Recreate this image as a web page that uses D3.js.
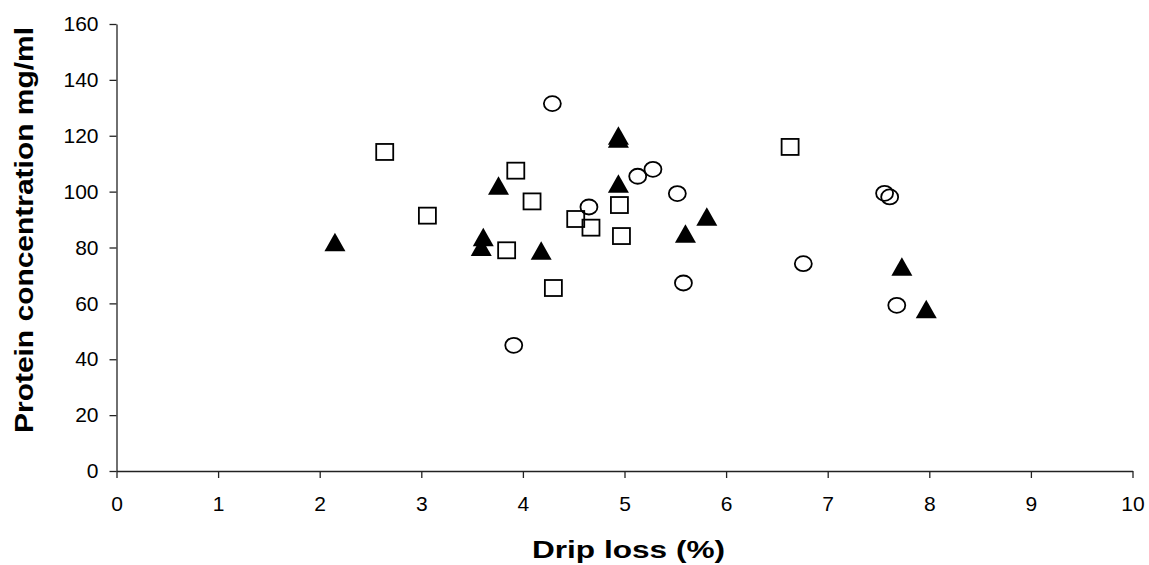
<!DOCTYPE html>
<html>
<head>
<meta charset="utf-8">
<script src="https://cdn.jsdelivr.net/npm/d3@7"></script>
<style>
  body { margin: 0; background: #fff; }
  svg { display: block; font-family: "Liberation Sans", Arial, sans-serif; }
  .tick text { font-size: 21px; fill: #000; }
  .tick line, .domain { stroke: #222; stroke-width: 1.3px; }
</style>
</head>
<body>
<script>
// series (x = drip loss %, y = protein mg/ml)
var squareX = [2.64, 3.06, 3.93, 4.09, 4.52, 4.67, 4.95, 4.97, 3.84, 4.30, 6.63];
var squareY = [114.2, 91.4, 107.5, 96.5, 90.2, 87.1, 95.2, 84.1, 79.0, 65.5, 116.0];

var circleX = [4.29, 5.13, 5.28, 5.52, 4.65, 3.91, 5.58, 7.56, 7.61, 6.76, 7.68];
var circleY = [131.5, 105.5, 108.0, 99.3, 94.5, 45.0, 67.3, 99.4, 98.1, 74.2, 59.3];

var triangleX = [4.94, 4.94, 4.94, 3.76, 2.15, 3.61, 3.59, 4.18, 5.60, 5.81, 7.73, 7.97];
var triangleY = [120.0, 118.9, 102.8, 102.1, 81.9, 83.7, 80.2, 78.8, 84.9, 91.0, 73.1, 57.9];

var xTicks = [0, 1, 2, 3, 4, 5, 6, 7, 8, 9, 10];
var yTicks = [0, 20, 40, 60, 80, 100, 120, 140, 160];

var w = 1149;
var h = 565;

var svg = d3.select("body").append("svg")
    .attr("width", w)
    .attr("height", h);

var x = d3.scaleLinear().domain([0, 10]).range([116.5, 1132.5]);
var y = d3.scaleLinear().domain([0, 160]).range([471, 24]);

// axes
svg.append("g")
    .attr("transform", "translate(0," + y(0) + ")")
    .call(d3.axisBottom(x).tickValues(xTicks).tickSize(7).tickSizeOuter(0).tickPadding(18))
    .selectAll(".tick text").attr("dy", "0.71em");

svg.append("g")
    .attr("transform", "translate(" + x(0) + ",0)")
    .call(d3.axisLeft(y).tickValues(yTicks).tickSize(7).tickSizeOuter(0).tickPadding(11));

// axis titles (the original glyphs are a bit stretched, so fix the length)
svg.append("text")
    .attr("x", 628.5)
    .attr("y", 558)
    .attr("text-anchor", "middle")
    .attr("textLength", 193)
    .attr("lengthAdjust", "spacingAndGlyphs")
    .style("font-weight", "bold")
    .style("font-size", "23px")
    .text("Drip loss (%)");

svg.append("text")
    .attr("transform", "translate(33,230) rotate(-90)")
    .attr("text-anchor", "middle")
    .attr("textLength", 406)
    .attr("lengthAdjust", "spacingAndGlyphs")
    .style("font-weight", "bold")
    .style("font-size", "26px")
    .text("Protein concentration mg/ml");

// squares
svg.append("g").selectAll("rect")
    .data(d3.range(squareX.length))
    .enter()
    .append("rect")
    .attr("x", function(i) { return x(squareX[i]) - 8.5; })
    .attr("y", function(i) { return y(squareY[i]) - 8; })
    .attr("width", 17)
    .attr("height", 16)
    .attr("fill", "none")
    .attr("stroke", "#000")
    .attr("stroke-width", 1.8);

// circles
svg.append("g").selectAll("ellipse")
    .data(d3.range(circleX.length))
    .enter()
    .append("ellipse")
    .attr("cx", function(i) { return x(circleX[i]); })
    .attr("cy", function(i) { return y(circleY[i]); })
    .attr("rx", 8.5)
    .attr("ry", 7.5)
    .attr("fill", "none")
    .attr("stroke", "#000")
    .attr("stroke-width", 1.8);

// filled triangles
svg.append("g").selectAll("path")
    .data(d3.range(triangleX.length))
    .enter()
    .append("path")
    .attr("d", "M0,-9.5L10.5,9L-10.5,9Z")
    .attr("transform", function(i) {
        return "translate(" + x(triangleX[i]) + "," + y(triangleY[i]) + ")";
    })
    .attr("fill", "#000");
</script>
</body>
</html>
